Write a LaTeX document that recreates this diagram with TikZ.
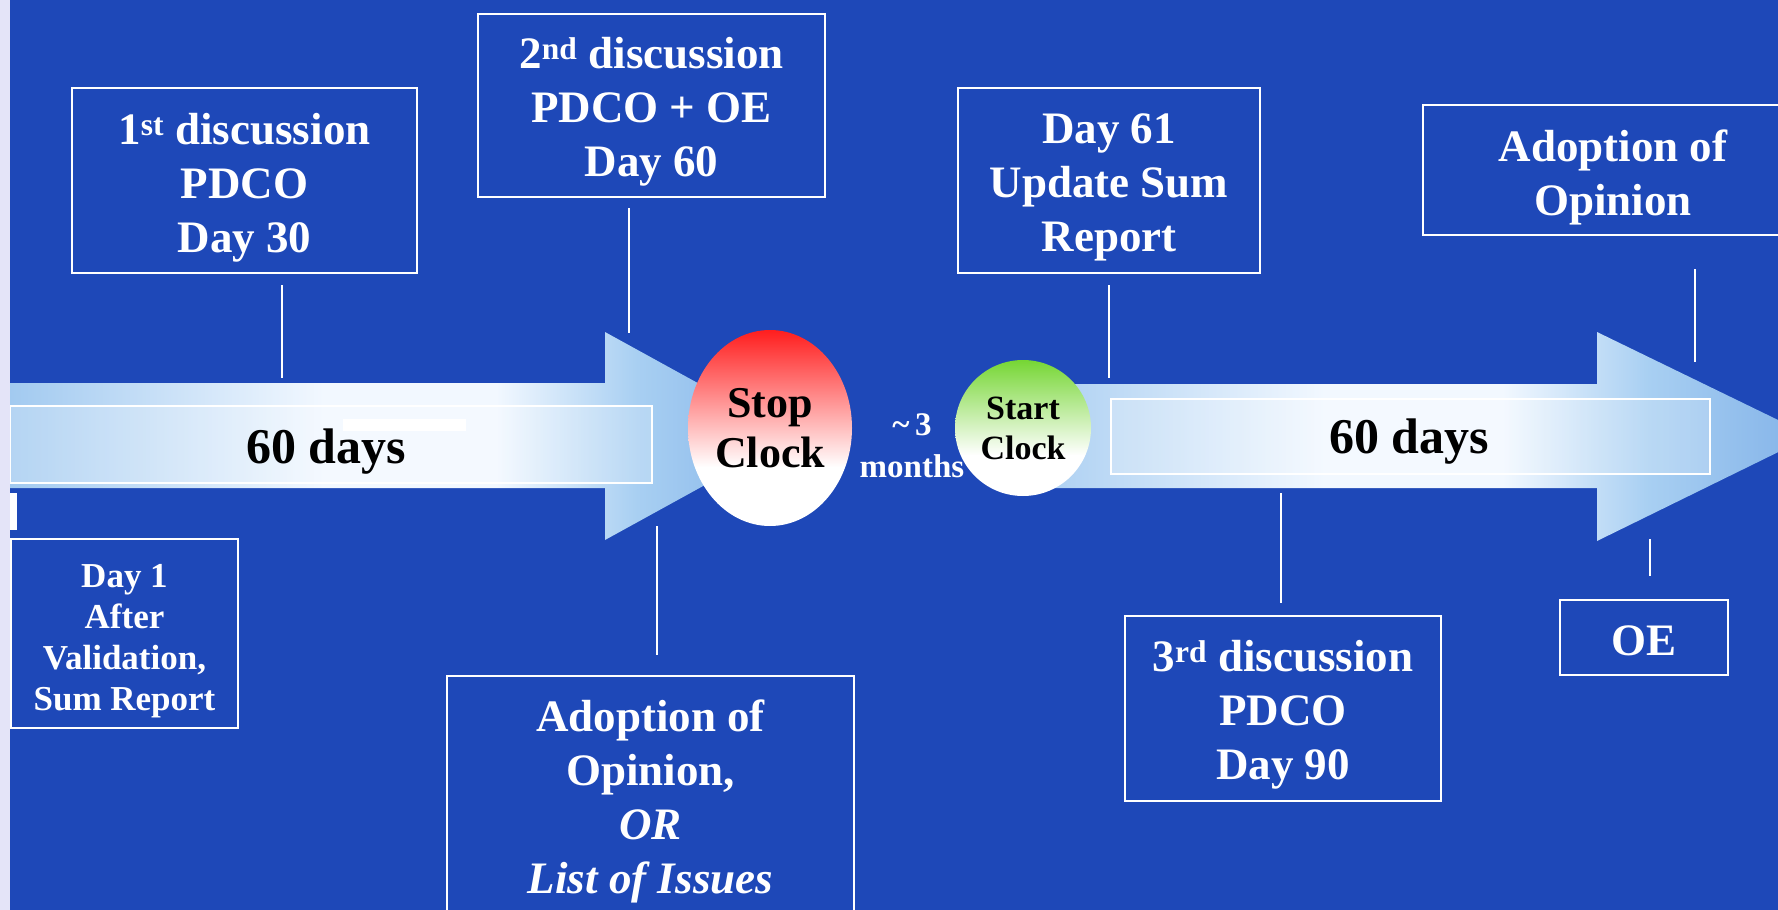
\documentclass[tikz,border=0pt]{standalone}
\usepackage{fontspec}
\setmainfont{Liberation Serif}
\usetikzlibrary{shapes.geometric}
\definecolor{bg}{HTML}{1E48B8}
\definecolor{lav}{HTML}{E4E4F8}
\definecolor{arL}{HTML}{A2CAF0}
\definecolor{arM}{HTML}{F2F8FF}
\definecolor{arR}{HTML}{A8CFF2}
\definecolor{arD}{HTML}{82B2E8}
\definecolor{stopred}{HTML}{FF1E1E}
\definecolor{startgreen}{HTML}{76D634}
% TikZ maps the path's bounding box onto 25bp--75bp of a shading
\pgfdeclarehorizontalshading{arrowshade}{100bp}{color(0bp)=(arL); color(25bp)=(arL); color(45bp)=(arM); color(56bp)=(arM); color(65bp)=(arR); color(75bp)=(arD); color(100bp)=(arD)}
\pgfdeclareverticalshading{stopshade}{100bp}{color(0bp)=(white); color(40bp)=(white); color(75bp)=(stopred); color(100bp)=(stopred)}
\pgfdeclareverticalshading{startshade}{100bp}{color(0bp)=(white); color(40bp)=(white); color(75bp)=(startgreen); color(100bp)=(startgreen)}
\tikzset{
  box/.style={draw=white, line width=2.5pt, inner sep=0pt},
  boxtext/.style={text=white, align=center, inner sep=0pt},
  bigf/.style={font=\fontsize{45}{54}\selectfont\bfseries},
  smallf/.style={font=\fontsize{35}{41}\selectfont\bfseries},
  conn/.style={draw=white, line width=2pt},
  arrowbody/.style={shading=arrowshade},
  innerrect/.style={draw=white, line width=2pt, fill=white, fill opacity=0.2},
  daystext/.style={font=\fontsize{50}{60}\selectfont\bfseries, text=black, anchor=base, inner sep=0pt},
  clockshape/.style={ellipse, inner sep=0pt, text=black, align=center}
}
\begin{document}
\begin{tikzpicture}[x=1pt,y=-1pt]
\useasboundingbox (0,0) rectangle (1778,910);
\clip (0,0) rectangle (1778,910);
\fill[bg] (0,0) rectangle (1778,910);

% arrows
\shade[arrowbody] (10,383) -- (605,383) -- (605,332) -- (794,436) -- (605,540) -- (605,488) -- (10,488) -- cycle;
\path[innerrect] (10,406) rectangle (652,483);
\shade[arrowbody] (1000,384) -- (1597,384) -- (1597,332) -- (1811,436) -- (1597,541) -- (1597,488) -- (1000,488) -- cycle;
\path[innerrect] (1111,399) rectangle (1710,474);
\fill[white] (343,419) rectangle (466,431);
\fill[white] (10,493) rectangle (17,530);

\node[daystext] (d1) at (326,463) {60 days};
\node[daystext] (d2) at (1409,453) {60 days};

% left strip
\fill[lav] (0,0) rectangle (10,910);

% clocks
\node[clockshape, shading=stopshade, minimum width=164pt, minimum height=196pt,
      font=\fontsize{44}{50}\selectfont\bfseries] (stop) at (770,428) {Stop\\Clock};
\node[clockshape, shading=startshade, minimum width=136pt, minimum height=136pt,
      font=\fontsize{34}{40}\selectfont\bfseries] (start) at (1023,428) {Start\\Clock};
\node[text=white, align=center, inner sep=0pt, font=\fontsize{33}{42}\selectfont\bfseries] (months) at (912,446) {\textasciitilde\,3\\months};

% boxes
\node[box, minimum width=345pt, minimum height=185pt] (b1) at (244.5,180.5) {};
\node[box, minimum width=347pt, minimum height=183pt] (b2) at (651.5,105.5) {};
\node[box, minimum width=302pt, minimum height=185pt] (b3) at (1109,180.5) {};
\node[box, minimum width=380pt, minimum height=130pt] (b4) at (1613,170) {};
\node[box, minimum width=227pt, minimum height=189pt] (b5) at (124.5,633.5) {};
\node[box, minimum width=407pt, minimum height=254pt] (b6) at (650.5,803) {};
\node[box, minimum width=316pt, minimum height=185pt] (b7) at (1283,708.5) {};
\node[box, minimum width=168pt, minimum height=75pt] (b8) at (1644,637.5) {};

% box texts
\node[boxtext, bigf] (t1) at ([yshift=-7pt]b1.center) {1\textsuperscript{st} discussion\\PDCO\\Day 30};
\node[boxtext, bigf] (t2) at ([yshift=-6pt]b2.center) {2\textsuperscript{nd} discussion\\PDCO + OE\\Day 60};
\node[boxtext, bigf] (t3) at ([yshift=-7pt]b3.center) {Day 61\\Update Sum\\Report};
\node[boxtext, bigf] (t4) at ([yshift=-7pt]b4.center) {Adoption of\\Opinion};
\node[boxtext, smallf] (t5) at ([yshift=-8pt]b5.center) {Day 1\\After\\Validation,\\Sum Report};
\node[boxtext, bigf] (t6) at ([yshift=2pt]b6.center) {Adoption of\\Opinion,\\\textit{OR}\\\textit{List of Issues}};
\node[boxtext, bigf] (t7) at ([yshift=-6pt]b7.center) {3\textsuperscript{rd} discussion\\PDCO\\Day 90};
\node[boxtext, bigf] (t8) at ([yshift=-3pt]b8.center) {OE};

% connector ends
\coordinate (c1a) at (282,285); \coordinate (c1b) at (282,378);
\coordinate (c2a) at (629,208); \coordinate (c2b) at (629,333);
\coordinate (c3a) at (1109,285); \coordinate (c3b) at (1109,378);
\coordinate (c4a) at (1695,269); \coordinate (c4b) at (1695,362);
\coordinate (c6a) at (657,526); \coordinate (c6b) at (657,655);
\coordinate (c7a) at (1281,493); \coordinate (c7b) at (1281,603);
\coordinate (c8a) at (1650,539); \coordinate (c8b) at (1650,576);
\draw[conn] (c1a) -- (c1b);
\draw[conn] (c2a) -- (c2b);
\draw[conn] (c3a) -- (c3b);
\draw[conn] (c4a) -- (c4b);
\draw[conn] (c6a) -- (c6b);
\draw[conn] (c7a) -- (c7b);
\draw[conn] (c8a) -- (c8b);
\end{tikzpicture}
\end{document}
